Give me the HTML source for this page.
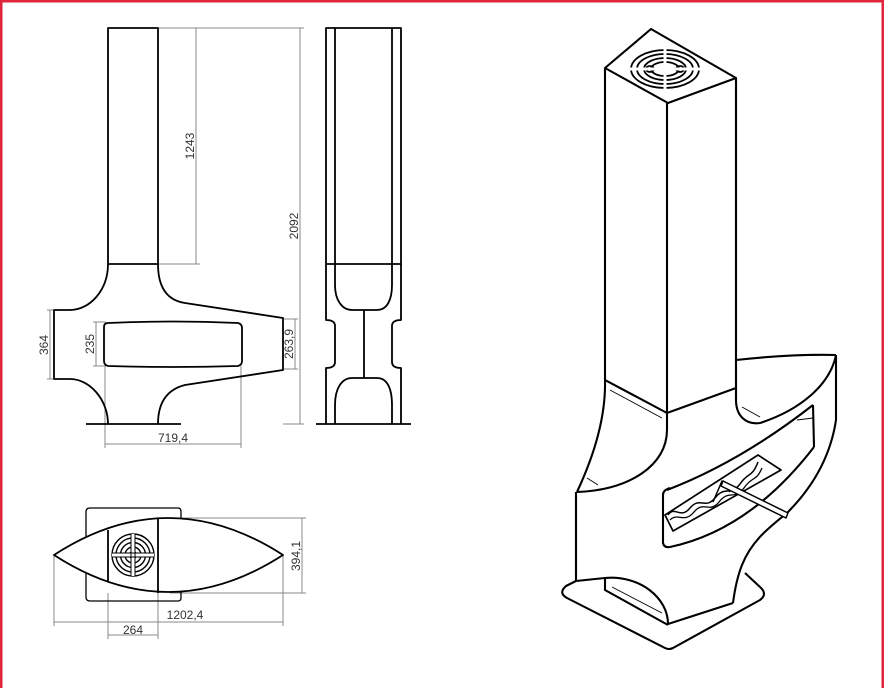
<!DOCTYPE html>
<html><head><meta charset="utf-8"><style>
html,body{margin:0;padding:0;background:#fff}
svg{display:block}
text{font-family:"Liberation Sans",sans-serif;font-size:12px;fill:#333}
</style></head><body>
<svg width="884" height="688" viewBox="0 0 884 688" xmlns="http://www.w3.org/2000/svg">
<rect x="0" y="0" width="884" height="688" fill="#fff"/>
<rect x="1" y="1" width="882" height="700" fill="none" stroke="#e0243c" stroke-width="3"/>

<g stroke="#888" stroke-width="1" fill="none">
  <line x1="158" y1="28" x2="304" y2="28"/>
  <line x1="196" y1="28" x2="196" y2="264"/><line x1="158" y1="264" x2="200" y2="264"/>
  <line x1="300" y1="28" x2="300" y2="424"/><line x1="283" y1="424" x2="304" y2="424"/>
  <line x1="50" y1="310" x2="50" y2="379"/><line x1="47" y1="310" x2="56" y2="310"/><line x1="47" y1="379" x2="56" y2="379"/>
  <line x1="96" y1="322" x2="96" y2="366"/><line x1="93" y1="322" x2="106" y2="322"/><line x1="93" y1="366" x2="106" y2="366"/>
  <line x1="295" y1="319" x2="295" y2="369"/><line x1="283" y1="319" x2="298" y2="319"/><line x1="283" y1="369" x2="298" y2="369"/>
  <line x1="105" y1="366" x2="105" y2="448"/><line x1="241" y1="366" x2="241" y2="448"/>
  <line x1="105" y1="444" x2="241" y2="444"/>
  <line x1="54" y1="555" x2="54" y2="626"/><line x1="283" y1="555" x2="283" y2="626"/>
  <line x1="54" y1="622" x2="283" y2="622"/>
  <line x1="108" y1="593" x2="108" y2="639"/><line x1="158" y1="593" x2="158" y2="639"/>
  <line x1="108" y1="635" x2="158" y2="635"/>
  <line x1="170" y1="518" x2="306" y2="518"/><line x1="170" y1="593" x2="306" y2="593"/>
  <line x1="302" y1="518" x2="302" y2="593"/>
</g>
<text transform="translate(194,146) rotate(-90)" text-anchor="middle">1243</text>
<text transform="translate(298,226) rotate(-90)" text-anchor="middle">2092</text>
<text transform="translate(48,345) rotate(-90)" text-anchor="middle">364</text>
<text transform="translate(94,344) rotate(-90)" text-anchor="middle">235</text>
<text transform="translate(293,344) rotate(-90)" text-anchor="middle">263,9</text>
<text x="173" y="442" text-anchor="middle">719,4</text>
<text transform="translate(300,556) rotate(-90)" text-anchor="middle">394,1</text>
<text x="185" y="619" text-anchor="middle">1202,4</text>
<text x="133" y="634" text-anchor="middle">264</text>

<g stroke="#000" stroke-width="1.8" fill="none" stroke-linejoin="round">
<rect x="108" y="28" width="50" height="236"/>
<path d="M158,264 C158,285 165,300 185,303 L283,318 L283,370 L185,385 C165,390 158,405 158,424"/>
<path d="M108,264 C108,290 90,310 70,310 L54,310 L54,379 L70,379 C90,379 108,400 108,424"/>
<line x1="86" y1="424" x2="181" y2="424"/>
<path d="M108,323 Q173,320 238,323 Q242,324 242,328 L242,361 Q242,365 238,366 Q173,368 108,366 Q104,365 104,361 L104,327 Q104,323 108,323 Z"/>
<rect x="326" y="28" width="75" height="236"/>
<line x1="335" y1="28" x2="335" y2="264"/><line x1="392" y1="28" x2="392" y2="264"/>
<path d="M326,264 L326,320 Q335,320 335,326 L335,362 Q335,368 326,368 L326,424"/>
<path d="M401,264 L401,320 Q392,320 392,326 L392,362 Q392,368 401,368 L401,424"/>
<path d="M335,264 L335,285 C335,300 342,310 352,310 L377,310 C387,310 392,300 392,285 L392,264"/>
<line x1="364" y1="310" x2="364" y2="378"/>
<path d="M335,424 L335,405 C335,388 342,378 352,378 L377,378 C387,378 392,388 392,405 L392,424"/>
<line x1="316" y1="424" x2="411" y2="424"/>
<path d="M108,508 L178,508 Q181,508 181,512 L181,598 Q181,601 178,601 L90,601 Q86,601 86,597 L86,512 Q86,508 90,508 Z" stroke-width="1.3"/>
<path d="M54,555 Q168,481 283,555 Q168,629 54,555 Z" fill="#fff"/>
<line x1="108" y1="530" x2="108" y2="582"/><line x1="158" y1="518" x2="158" y2="593"/>
<g stroke-width="1.4">
<circle cx="133" cy="555" r="21"/><circle cx="133" cy="555" r="17"/><circle cx="133" cy="555" r="12.5"/><circle cx="133" cy="555" r="8"/><circle cx="133" cy="555" r="3.5"/>
</g>
<g stroke="#fff" stroke-width="3"><line x1="112" y1="555" x2="154" y2="555"/><line x1="133" y1="534" x2="133" y2="576"/></g>
<g stroke-width="1"><line x1="112" y1="553" x2="154" y2="553"/><line x1="112" y1="557" x2="154" y2="557"/><line x1="131" y1="534" x2="131" y2="576"/><line x1="135" y1="534" x2="135" y2="576"/></g>
</g>

<g stroke="#000" stroke-width="2.1" fill="none" stroke-linejoin="round">
<path d="M651,29 L736,78 L668,103 L605,68 Z"/>
<g stroke-width="1.8"><ellipse cx="665" cy="69" rx="34" ry="19"/><ellipse cx="665" cy="69" rx="28" ry="15"/><ellipse cx="665" cy="69" rx="21" ry="11"/><ellipse cx="665" cy="69" rx="14" ry="7"/><ellipse cx="650" cy="69" rx="4" ry="3"/><ellipse cx="680" cy="69" rx="4" ry="3"/></g>
<g stroke="#fff" stroke-width="3"><line x1="630" y1="69" x2="700" y2="69"/><line x1="665" y1="49" x2="665" y2="89"/></g>
<line x1="605" y1="68" x2="605" y2="380"/>
<line x1="667" y1="103" x2="667" y2="413"/>
<line x1="736" y1="78" x2="736" y2="400"/>
<path d="M605,380 L667,413 L736,388"/>
<path d="M605,380 C606,420 592,460 577,492"/>
<path d="M667,413 L667,430 C667,465 630,490 577,492"/>
<path d="M576,492 L576,581 L605,578 C640,575 668,598 668,624 L733,603"/>
<path d="M605,578 L605,590 L668,625"/>
<path d="M576,581 L566,586 Q558,593 567,598 L665,648 Q669,650 673,648 L760,600 Q768,594 760,587 L745,573"/>
<path d="M733,603 Q736,580 742,565 C752,540 770,527 787,513 C810,490 830,460 836,420 L836,355"/>
<path d="M736,360 Q790,354 836,355"/>
<path d="M736,400 C736,415 745,425 760,423 C800,410 830,385 836,355"/>
<path d="M813,405 L814,447"/>
<line x1="797" y1="420" x2="813" y2="418" stroke-width="1"/>
<path d="M667,490 Q740,462 813,405"/>
<path d="M663,495 L663,543 Q664,548 670,547 Q750,530 814,447"/>
<path d="M663,495 Q663,490 670,488"/>
<path d="M665,515 L758,455 L781,470 L673,531 Z" stroke-width="1.7"/>
<path d="M668,515 C675,505 680,520 690,508 C700,496 705,510 715,498 C725,485 730,497 740,484 C748,472 752,478 758,462" stroke-width="1.5"/>
<path d="M670,520 C678,512 684,524 694,512 C704,500 709,514 719,502 C729,489 734,501 744,488 C752,476 756,482 762,468" stroke-width="1.3"/>
<path d="M713,502 L722,481 L730,492" stroke-width="1.5"/>
<path d="M723,481 L788,513 L786,518 L721,486 Z" stroke-width="1.5" fill="#fff"/>
<g stroke-width="0.9">
<line x1="610" y1="390" x2="662" y2="418"/>
<line x1="742" y1="407" x2="760" y2="417"/>
<line x1="587" y1="478" x2="598" y2="485"/>
<line x1="612" y1="587" x2="662" y2="613"/>
</g>
</g>
</svg>
</body></html>
